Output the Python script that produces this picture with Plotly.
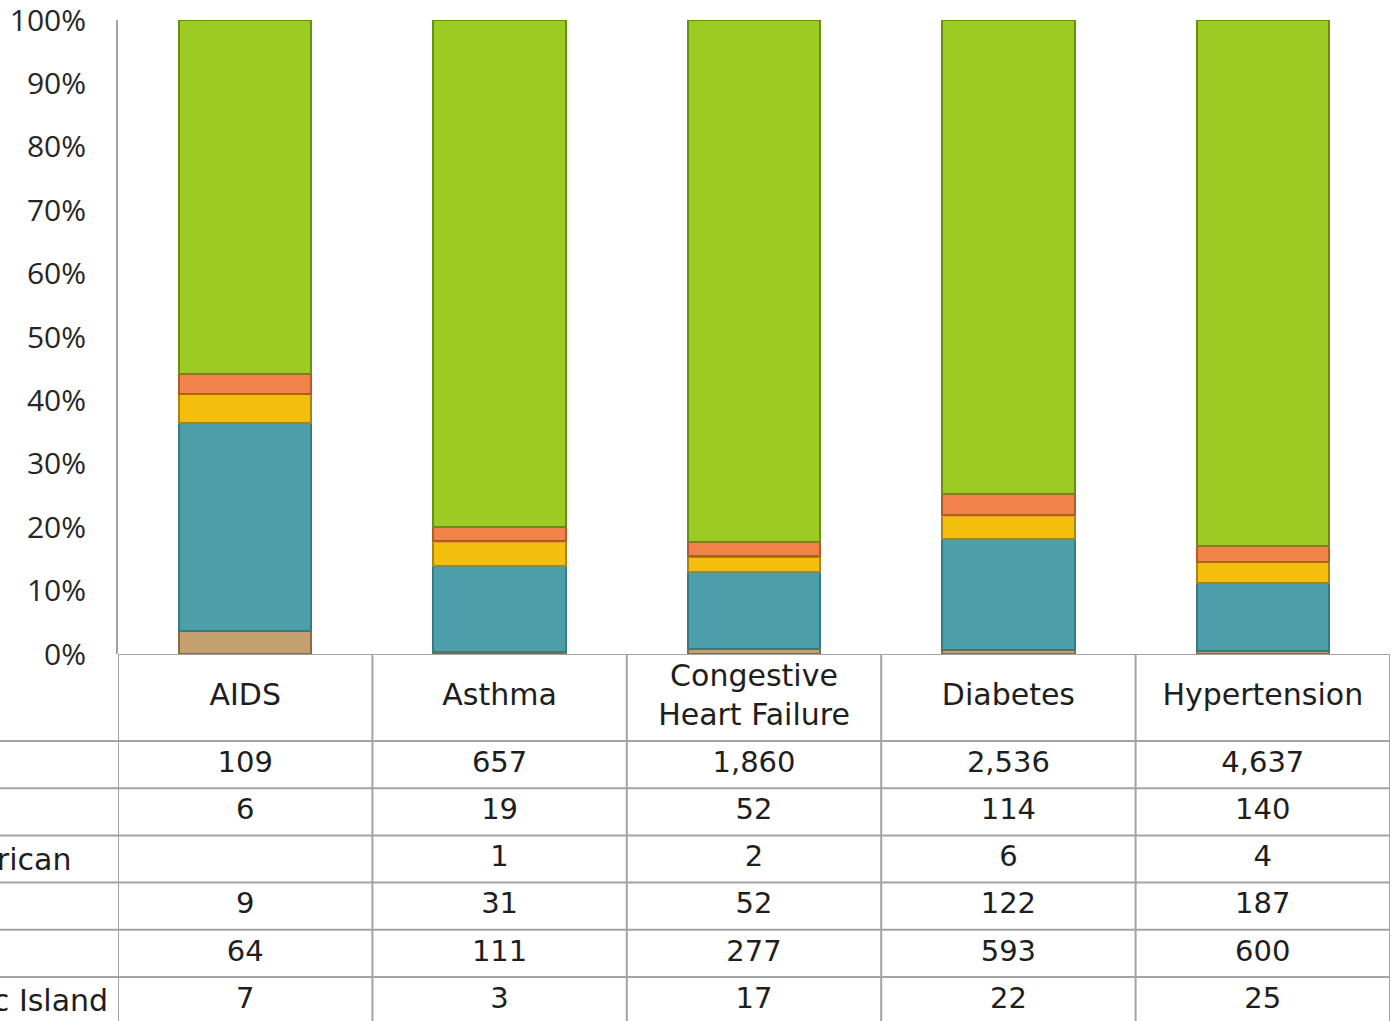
import plotly.graph_objects as go

categories = ["AIDS", "Asthma", "Congestive Heart Failure", "Diabetes", "Hypertension"]
header_labels = ["AIDS", "Asthma", "Congestive<br>Heart Failure", "Diabetes", "Hypertension"]

# table rows, top to bottom
row_names = ["White", "Other", "Native American", "Hispanic", "Black", "Asian/Pacific Island"]
white = [109, 657, 1860, 2536, 4637]
other = [6, 19, 52, 114, 140]
native_american = [None, 1, 2, 6, 4]
hispanic = [9, 31, 52, 122, 187]
black = [64, 111, 277, 593, 600]
pacific_island = [7, 3, 17, 22, 25]
rows = [white, other, native_american, hispanic, black, pacific_island]

face = {
    "White": "#9CCB24",
    "Other": "#F0824A",
    "Native American": "#E8954A",
    "Hispanic": "#F3BE0C",
    "Black": "#4C9EA9",
    "Asian/Pacific Island": "#C4A06E",
}
edge = {
    "White": "#6A8E12",
    "Other": "#B25A2C",
    "Native American": "#B25A2C",
    "Hispanic": "#A88412",
    "Black": "#367A82",
    "Asian/Pacific Island": "#8A6C44",
}
edge_w = {
    "White": 2, "Other": 2, "Native American": 0,
    "Hispanic": 2, "Black": 2, "Asian/Pacific Island": 2,
}

W, H = 1397, 1021
ML, MR, MT, MB = 118, 7, 20, 0
plot_h = H - MT - MB
table_h = 367
HEADER_H = 87
ROW_H = 47.2
GRID = "#A3A3A3"
TXT = "#1E1E1E"
TFONT = "DejaVu Sans"

fig = go.Figure()

# stacked bars: bottom of stack is last row of the table
for name, vals in reversed(list(zip(row_names, rows))):
    fig.add_trace(go.Bar(
        x=categories, y=[v if v is not None else 0 for v in vals], name=name,
        marker=dict(color=face[name], line=dict(color=edge[name], width=edge_w[name])),
        width=0.52, xaxis="x", yaxis="y", showlegend=False,
    ))

# table header (category names)
fig.add_trace(go.Scatter(
    x=categories, y=[HEADER_H / 2] * len(categories), text=header_labels,
    mode="text", textposition="middle center",
    textfont=dict(family=TFONT, size=30, color=TXT),
    xaxis="x", yaxis="y2", showlegend=False, hoverinfo="skip",
))

# table values
for i, (name, vals) in enumerate(zip(row_names, rows)):
    yc = HEADER_H + ROW_H * (i + 0.5)
    fig.add_trace(go.Scatter(
        x=categories, y=[yc] * len(categories),
        text=["" if v is None else f"{v:,}" for v in vals],
        mode="text", textposition="middle center",
        textfont=dict(family=TFONT, size=29, color=TXT),
        xaxis="x", yaxis="y2", showlegend=False, hoverinfo="skip",
    ))

shapes = []
n = len(categories)
shapes.append(dict(type="line", xref="x", yref="y2", x0=-0.5, x1=n - 0.5, y0=0, y1=0,
                   line=dict(color=GRID, width=2)))
for i in range(len(rows) + 1):
    yb = HEADER_H + ROW_H * i
    shapes.append(dict(type="line", xref="paper", yref="y2", x0=-0.2, x1=1, y0=yb, y1=yb,
                       line=dict(color=GRID, width=2)))
for k in range(n + 1):
    shapes.append(dict(type="line", xref="x", yref="y2", x0=k - 0.5, x1=k - 0.5, y0=0, y1=table_h,
                       line=dict(color=GRID, width=2)))

plot_w = W - ML - MR
annotations = []
label_start_px = -180
for i, name in enumerate(row_names):
    yc = HEADER_H + ROW_H * (i + 0.5)
    annotations.append(dict(
        xref="paper", yref="y2", x=(label_start_px - ML) / plot_w, y=yc,
        xanchor="left", yanchor="middle", text=name, showarrow=False,
        font=dict(family=TFONT, size=30, color=TXT),
    ))

fig.update_layout(
    width=W, height=H, autosize=False,
    margin=dict(l=ML, r=MR, t=MT, b=MB, autoexpand=False),
    paper_bgcolor="white", plot_bgcolor="white",
    barmode="stack", barnorm="percent",
    xaxis=dict(type="category", range=[-0.5, n - 0.5], showticklabels=False, automargin=False,
               showline=False, showgrid=False, zeroline=False, ticks="", anchor="y"),
    yaxis=dict(domain=[table_h / plot_h, 1], range=[0, 100.01], automargin=False,
               tickvals=list(range(0, 101, 10)), ticktext=[f"{v}%" for v in range(0, 101, 10)],
               showgrid=False, zeroline=False, showline=True, linecolor=GRID, linewidth=2,
               ticks="", ticklabelstandoff=24, ticklabeloverflow="allow",
               tickfont=dict(family="Open Sans", size=30, color="#262626"), anchor="x"),
    yaxis2=dict(domain=[0, table_h / plot_h], range=[table_h, 0], visible=False,
                automargin=False, anchor="x"),
    shapes=shapes,
    annotations=annotations,
)

fig.write_html(
    "out.html",
    config={"displayModeBar": False, "responsive": False},
    post_script="document.body.style.margin='0px';document.body.style.overflow='hidden';",
)
